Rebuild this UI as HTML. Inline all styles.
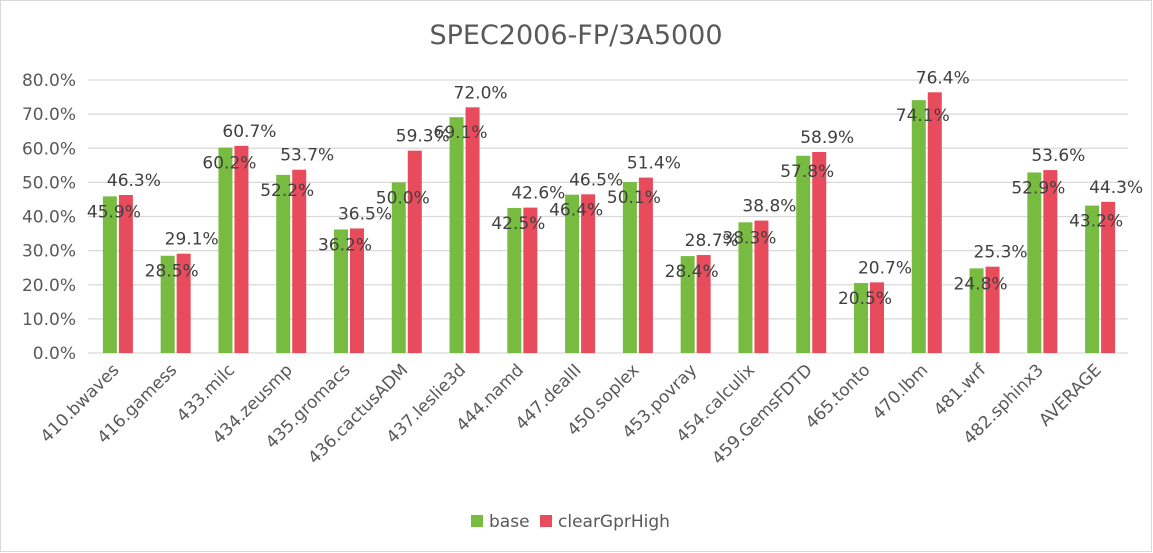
<!DOCTYPE html>
<html><head><meta charset="utf-8">
<style>
body{margin:0;background:#fff;}
svg{display:block;font-family:"DejaVu Sans","Liberation Sans",sans-serif;}
</style></head>
<body>
<svg id="chart" width="1153" height="553">
<rect x="0.5" y="0.5" width="1151" height="551" fill="#fff" stroke="#d9d9d9"/>
<text x="576" y="44" text-anchor="middle" font-size="27" fill="#595959">SPEC2006-FP/3A5000</text>
<g id="grid"></g><g id="bars"></g><g id="labels"></g>
<g>
<rect x="471" y="515" width="12" height="12" fill="#77bc41"/>
<text x="489" y="527" font-size="17" fill="#595959">base</text>
<rect x="540" y="515" width="12" height="12" fill="#e84b5c"/>
<text x="558" y="527" font-size="17" fill="#595959">clearGprHigh</text>
</g>
</svg>
<script>
const categories=["410.bwaves","416.gamess","433.milc","434.zeusmp","435.gromacs","436.cactusADM","437.leslie3d","444.namd","447.dealII","450.soplex","453.povray","454.calculix","459.GemsFDTD","465.tonto","470.lbm","481.wrf","482.sphinx3","AVERAGE"];
const baseValues=[45.9,28.5,60.2,52.2,36.2,50.0,69.1,42.5,46.4,50.1,28.4,38.3,57.8,20.5,74.1,24.8,52.9,43.2];
const clearValues=[46.3,29.1,60.7,53.7,36.5,59.3,72.0,42.6,46.5,51.4,28.7,38.8,58.9,20.7,76.4,25.3,53.6,44.3];
const yTicks=[0,10,20,30,40,50,60,70,80];
const NS="http://www.w3.org/2000/svg";
const x0=88,x1=1128,y0=353,y80=80;
const bw=(x1-x0)/categories.length;
function y(v){return y0-(v/80)*(y0-y80);}
function xc(i){return x0+bw*(i+0.5);}
function mk(tag,attrs,parent,txt){const e=document.createElementNS(NS,tag);for(const k in attrs)e.setAttribute(k,attrs[k]);if(txt!==undefined)e.textContent=txt;document.getElementById(parent).appendChild(e);return e;}
yTicks.forEach(t=>{
  const l=mk('line',{x1:x0,x2:x1,y1:y(t),y2:y(t),stroke:'#d9d9d9','stroke-width':1.3},'grid');
  
  
  const tx=mk('text',{x:76,y:y(t)+6,'text-anchor':'end','font-size':17,fill:'#595959'},'grid',t.toFixed(1)+'%');
  
  
});
categories.forEach((c,i)=>{
  const cx=xc(i);
  const g=mk('rect',{x:cx-14,y:y(baseValues[i]),width:14,height:y0-y(baseValues[i]),fill:'#77bc41'},'bars');
  
  
  const r=mk('rect',{x:cx+2,y:y(clearValues[i]),width:14,height:y0-y(clearValues[i]),fill:'#e84b5c'},'bars');
  
  
  const lb=mk('text',{x:cx-3,y:y(baseValues[i])+21,'text-anchor':'middle','font-size':17,fill:'#404040'},'labels',baseValues[i].toFixed(1)+'%');
  
  
  const lr=mk('text',{x:cx+17,y:y(clearValues[i])-9,'text-anchor':'middle','font-size':17,fill:'#404040'},'labels',clearValues[i].toFixed(1)+'%');
  
  
  const xl=mk('text',{x:cx+3,y:371,'text-anchor':'end','font-size':17,fill:'#595959',transform:`rotate(-45 ${cx+3} 371)`},'labels',c);
  
  
});
</script>
</body></html>
